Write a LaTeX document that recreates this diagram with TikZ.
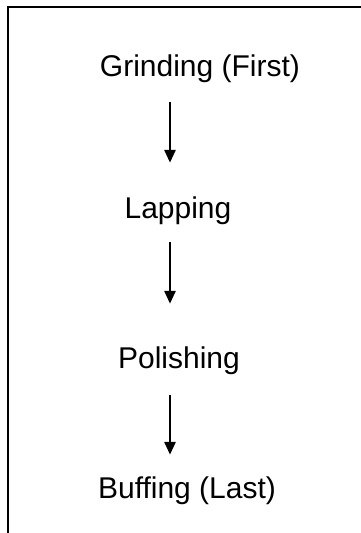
\documentclass[tikz,border=0pt]{standalone}
\usepackage{fontspec}
\setmainfont{Liberation Sans}
\usetikzlibrary{arrows.meta}

\tikzset{
  stage/.style={anchor=base, inner sep=0pt, text height=22pt, text depth=7pt,
    font=\fontsize{30}{36}\selectfont},
  flow/.style={line width=2.8pt, -{Triangle[length=13pt,width=11pt]}}
}

\begin{document}
\begin{tikzpicture}[x=1pt,y=-1pt]
      \useasboundingbox (0,0) rectangle (361,533);
      % open frame: top and left edge only
      \draw [line width=2.4pt] (8,533) -- (8,7) -- (361,7);
      \node [stage] (grind) at (200,76) {Grinding (First)};
      \node [stage] (lap) at (178,218) {Lapping};
      \node [stage] (polish) at (179,368) {Polishing};
      \node [stage] (buff) at (187,498) {Buffing (Last)};
      \coordinate (spine) at (170,0);
      \draw [flow] ([yshift=-19pt]grind.south -| spine) -- ([yshift=33pt]lap.north -| spine);
      \draw [flow] ([yshift=-17pt]lap.south -| spine) -- ([yshift=42pt]polish.north -| spine);
      \draw [flow] ([yshift=-20pt]polish.south -| spine) -- ([yshift=21pt]buff.north -| spine);
    \end{tikzpicture}
\end{document}
